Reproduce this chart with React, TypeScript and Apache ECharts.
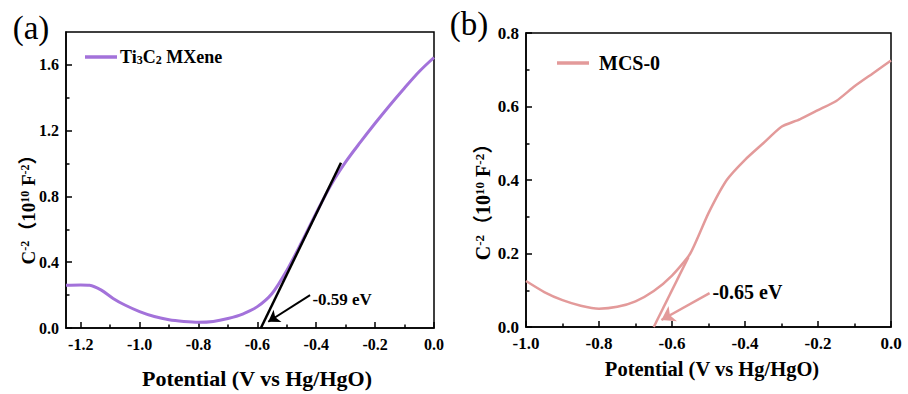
import React, { useEffect, useRef } from "react";
import * as echarts from "echarts";

// Panel (a): Ti3C2 MXene Mott-Schottky
const potentialA = [-1.25, -1.2, -1.17, -1.13, -1.09, -1.05, -1.0, -0.95, -0.9, -0.85, -0.8, -0.75, -0.7, -0.65, -0.6, -0.55, -0.5, -0.45, -0.4, -0.35, -0.3, -0.25, -0.2, -0.15, -0.1, -0.05, 0];
const valueA = [0.26, 0.262, 0.26, 0.23, 0.18, 0.14, 0.1, 0.07, 0.05, 0.04, 0.035, 0.04, 0.058, 0.085, 0.13, 0.21, 0.35, 0.52, 0.7, 0.87, 1.01, 1.13, 1.245, 1.355, 1.46, 1.56, 1.645];
const tangentAx = [-0.588, -0.316];
const tangentAy = [0, 1.005];
const arrowA = [[-0.421, 0.2], [-0.563, 0.038]];
const labelA = "-0.59 eV";
const labelAPos = [-0.43, 0.175];

// Panel (b): MCS-0
const potentialB = [-1.0, -0.95, -0.9, -0.85, -0.8, -0.75, -0.7, -0.65, -0.6, -0.55, -0.5, -0.45, -0.4, -0.35, -0.3, -0.25, -0.2, -0.15, -0.1, -0.05, 0];
const valueB = [0.125, 0.095, 0.073, 0.058, 0.05, 0.055, 0.07, 0.098, 0.14, 0.2, 0.31, 0.4, 0.455, 0.5, 0.545, 0.565, 0.59, 0.615, 0.655, 0.69, 0.725];
const tangentBx = [-0.65, -0.555];
const tangentBy = [0, 0.19];
const arrowB = [[-0.497, 0.092], [-0.629, 0.019]];
const labelB = "-0.65 eV";
const labelBPos = [-0.503, 0.096];

// Axis ranges and tick values
const xRangeA = [-1.25, 0];
const yRangeA = [0, 1.8];
const xMajorA = [-1.2, -1.0, -0.8, -0.6, -0.4, -0.2, 0];
const xMinorA = [-1.1, -0.9, -0.7, -0.5, -0.3, -0.1];
const yMajorA = [0, 0.4, 0.8, 1.2, 1.6];
const yMinorA = [0.2, 0.6, 1.0, 1.4];

const xRangeB = [-1.0, 0];
const yRangeB = [0, 0.8];
const xMajorB = [-1.0, -0.8, -0.6, -0.4, -0.2, 0];
const xMinorB = [-0.9, -0.7, -0.5, -0.3, -0.1];
const yMajorB = [0, 0.2, 0.4, 0.6, 0.8];
const yMinorB = [0.1, 0.3, 0.5, 0.7];

const seriesNameA = "Ti3C2 MXene";
const seriesNameB = "MCS-0";
const xTitle = "Potential (V vs Hg/HgO)";

const FONT = "'Liberation Serif', 'Times New Roman', 'Noto Sans CJK SC', serif";
const PURPLE = "#A372DA";
const PINK = "#E39A9A";

const zip = (a: number[], b: number[]) => a.map((v, i) => [v, b[i]]);
const fmt = (v: number) => (Math.abs(v) < 1e-9 ? 0 : v).toFixed(1);

const GRID_A = { left: 66, top: 32, width: 368, height: 296 };
const GRID_B = { left: 526, top: 33, width: 365, height: 294 };
const MINOR_LEN = 3.5;

// Inward minor tick marks as mark lines in data coordinates
function minorTickLines(grid: any, xr: number[], yr: number[], xMin: number[], yMin: number[]) {
  const dxPx = (xr[1] - xr[0]) / grid.width;
  const dyPx = (yr[1] - yr[0]) / grid.height;
  const out: any[] = [];
  xMin.forEach((v) => out.push([{ coord: [v, yr[0]] }, { coord: [v, yr[0] + MINOR_LEN * dyPx] }]));
  yMin.forEach((v) => out.push([{ coord: [xr[0], v] }, { coord: [xr[0] + MINOR_LEN * dxPx, v] }]));
  return {
    silent: true,
    symbol: ["none", "none"],
    lineStyle: { color: "#000", width: 1.5, type: "solid" },
    label: { show: false },
    emphasis: { disabled: true },
    data: out,
  };
}

export default function App() {
  const ref = useRef<HTMLDivElement>(null);
  useEffect(() => {
    document.body.style.margin = "0";
    const chart = echarts.init(ref.current!, undefined, { renderer: "svg" });
    const axisLineStyle = () => ({ color: "#000", width: 1.5 });
    const labelStyle = (size: number) => ({
      color: "#000",
      fontFamily: FONT,
      fontWeight: "bold" as const,
      fontSize: size,
    });
    const yName = (size: number, sup: number) => ({
      text: "{n|C}{s|-2}{n|（10}{s|10}{n| F}{s|-2}{n|）}",
      rich: {
        n: { fontSize: size, fontWeight: "bold", fontFamily: FONT, fill: "#000", verticalAlign: "bottom" },
        s: { fontSize: sup, fontWeight: "bold", fontFamily: FONT, fill: "#000", verticalAlign: "top" },
      },
      align: "center",
      verticalAlign: "middle",
    });
    const majorTick = (ticks: number[]) => ({
      show: true, inside: true, length: 6, customValues: ticks, lineStyle: { color: "#000", width: 1.5 },
    });
    const xAxisDef = (grid: number, range: number[], ticks: number[], size: number) => ({
      gridIndex: grid, type: "value", min: range[0], max: range[1], position: "bottom",
      axisLine: { show: true, onZero: false, lineStyle: axisLineStyle() },
      axisTick: majorTick(ticks),
      axisLabel: { show: true, customValues: ticks, formatter: fmt, margin: 8, ...labelStyle(size) },
      splitLine: { show: false },
    });
    const yAxisDef = (grid: number, range: number[], ticks: number[], size: number) => ({
      gridIndex: grid, type: "value", min: range[0], max: range[1], position: "left",
      axisLine: { show: true, onZero: false, lineStyle: axisLineStyle() },
      axisTick: majorTick(ticks),
      axisLabel: { show: true, customValues: ticks, formatter: fmt, margin: 7, ...labelStyle(size) },
      splitLine: { show: false },
    });
    const option: any = {
      animation: false,
      grid: [
        { ...GRID_A, show: true, borderColor: "#000", borderWidth: 1.5, backgroundColor: "transparent" },
        { ...GRID_B, show: true, borderColor: "#000", borderWidth: 1.5, backgroundColor: "transparent" },
      ],
      xAxis: [xAxisDef(0, xRangeA, xMajorA, 16), xAxisDef(1, xRangeB, xMajorB, 17)],
      yAxis: [yAxisDef(0, yRangeA, yMajorA, 16), yAxisDef(1, yRangeB, yMajorB, 17)],
      series: [
        {
          name: seriesNameA, type: "line", xAxisIndex: 0, yAxisIndex: 0,
          data: zip(potentialA, valueA), smooth: 0.3, showSymbol: false,
          lineStyle: { color: PURPLE, width: 3 }, silent: true, z: 2,
          markLine: minorTickLines(GRID_A, xRangeA, yRangeA, xMinorA, yMinorA),
        },
        {
          name: "tangentA", type: "line", xAxisIndex: 0, yAxisIndex: 0,
          data: zip(tangentAx, tangentAy), showSymbol: false,
          lineStyle: { color: "#000", width: 2.5 }, silent: true, z: 3,
          markLine: {
            silent: true, symbol: ["none", "arrow"], symbolSize: 11,
            lineStyle: { color: "#000", width: 2, type: "solid" },
            label: { show: false },
            data: [[{ coord: arrowA[0] }, { coord: arrowA[1] }]],
          },
          markPoint: {
            silent: true, symbol: "circle", symbolSize: 0,
            label: { show: true, position: "right", distance: 5, formatter: labelA, ...labelStyle(17) },
            data: [{ coord: labelAPos }],
          },
        },
        {
          name: seriesNameB, type: "line", xAxisIndex: 1, yAxisIndex: 1,
          data: zip(potentialB, valueB), smooth: 0.2, showSymbol: false,
          lineStyle: { color: PINK, width: 2.5 }, silent: true, z: 2,
          markLine: minorTickLines(GRID_B, xRangeB, yRangeB, xMinorB, yMinorB),
        },
        {
          name: "tangentB", type: "line", xAxisIndex: 1, yAxisIndex: 1,
          data: zip(tangentBx, tangentBy), showSymbol: false,
          lineStyle: { color: PINK, width: 2.5 }, silent: true, z: 3,
          markLine: {
            silent: true, symbol: ["none", "arrow"], symbolSize: 13,
            lineStyle: { color: PINK, width: 2.5, type: "solid" },
            label: { show: false },
            data: [[{ coord: arrowB[0] }, { coord: arrowB[1] }]],
          },
          markPoint: {
            silent: true, symbol: "circle", symbolSize: 0,
            label: { show: true, position: "right", distance: 5, formatter: labelB, ...labelStyle(20) },
            data: [{ coord: labelBPos }],
          },
        },
      ],
      graphic: [
        { type: "text", x: 31, y: 28, style: { text: "(a)", font: `33px ${FONT}`, fill: "#000", align: "center", verticalAlign: "middle" } },
        { type: "text", x: 469, y: 24, style: { text: "(b)", font: `33px ${FONT}`, fill: "#000", align: "center", verticalAlign: "middle" } },
        { type: "text", x: 257, y: 378, style: { text: xTitle, font: `bold 22px ${FONT}`, fill: "#000", align: "center", verticalAlign: "middle" } },
        { type: "text", x: 712, y: 369, style: { text: xTitle, font: `bold 20.5px ${FONT}`, fill: "#000", align: "center", verticalAlign: "middle" } },
        { type: "text", x: 28, y: 205, rotation: Math.PI / 2, style: yName(19, 12) },
        { type: "text", x: 483, y: 197, rotation: Math.PI / 2, style: yName(20, 13) },
        { type: "line", shape: { x1: 85, y1: 57, x2: 117, y2: 57 }, style: { stroke: PURPLE, lineWidth: 3.5 } },
        {
          type: "text", x: 120, y: 57,
          style: {
            text: "{n|Ti}{s|3}{n|C}{s|2}{n| MXene}",
            rich: {
              n: { fontSize: 18, fontWeight: "bold", fontFamily: FONT, fill: "#000", verticalAlign: "top" },
              s: { fontSize: 12, fontWeight: "bold", fontFamily: FONT, fill: "#000", verticalAlign: "bottom" },
            },
            align: "left", verticalAlign: "middle",
          },
        },
        { type: "line", shape: { x1: 557, y1: 63, x2: 589, y2: 63 }, style: { stroke: PINK, lineWidth: 3.5 } },
        { type: "text", x: 599, y: 63, style: { text: seriesNameB, font: `bold 20px ${FONT}`, fill: "#000", align: "left", verticalAlign: "middle" } },
      ],
    };
    chart.setOption(option);
    return () => chart.dispose();
  }, []);
  return <div ref={ref} style={{ position: "fixed", left: 0, top: 0, width: 908, height: 394, background: "#fff" }} />;
}
